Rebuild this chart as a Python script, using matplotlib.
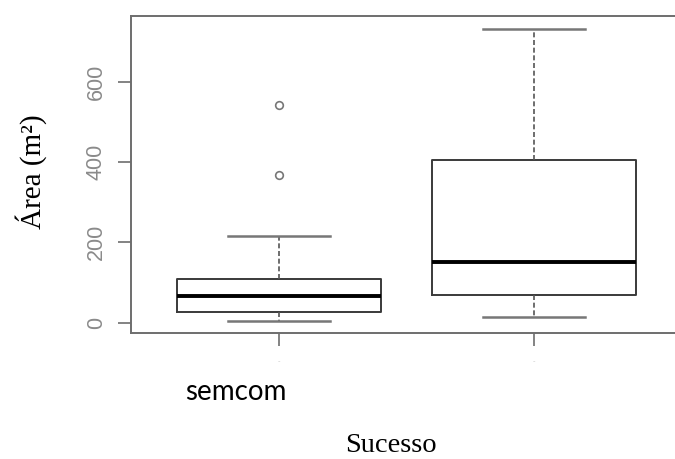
import matplotlib.pyplot as plt

groups = ["semcom", "comcom"]
q1 = [26, 68]
medians = [67, 151]
q3 = [108, 404]
whisk_lo = [4, 14]
whisk_hi = [216, 732]
outliers = [[368, 541], []]

stats = []
for i, g in enumerate(groups):
    stats.append({"label": g, "q1": q1[i], "med": medians[i], "q3": q3[i],
                  "whislo": whisk_lo[i], "whishi": whisk_hi[i], "fliers": outliers[i]})

fig = plt.figure(figsize=(6.75, 4.59), dpi=100)
ax = fig.add_axes([131 / 675, 126 / 459, 551 / 675, 317 / 459])

frame = "#6e6e6e"
ax.bxp(stats, positions=[1, 2], widths=0.8, capwidths=0.4, showfliers=True,
       boxprops=dict(color="#3a3a3a", linewidth=1.4),
       medianprops=dict(color="black", linewidth=2.8),
       whiskerprops=dict(color="#555555", linewidth=1.2, linestyle=(0, (3, 1.6))),
       capprops=dict(color="#777777", linewidth=1.8),
       flierprops=dict(marker="o", markersize=5.5, markerfacecolor="none",
                       markeredgecolor="#777777", markeredgewidth=1.2))

ax.set_xlim(0.42, 2.58)
ax.set_ylim(-26, 764)

for side in ["left", "top", "bottom", "right"]:
    ax.spines[side].set_color(frame)
    ax.spines[side].set_linewidth(1.4)

ax.set_yticks([0, 200, 400, 600])
ax.set_yticklabels(["0", "200", "400", "600"], family="Liberation Sans",
                   fontsize=15.5, color="#8a8a8a", rotation=90, va="center")
ax.tick_params(axis="y", length=9.5, width=1.2, color=frame, pad=8)

ax.set_xticks([1, 2])
ax.set_xticklabels(["-", "-"], fontsize=5, color="#c8c8c8")
ax.tick_params(axis="x", length=9, width=1.2, color=frame, pad=9)

fig.text(185 / 675, 59 / 459, "semcom", family="Lato", fontsize=20,
         ha="left", va="baseline", color="black")
fig.text(391 / 675, 1 / 459, "Sucesso", family="Liberation Serif", fontsize=20.5,
         ha="center", va="bottom", color="black")
fig.text(31 / 675, 1 - 172 / 459, "Área (m²)", family="Liberation Serif", fontsize=21,
         rotation=90, ha="center", va="center", color="black")

fig.savefig("out.png", dpi=100)
